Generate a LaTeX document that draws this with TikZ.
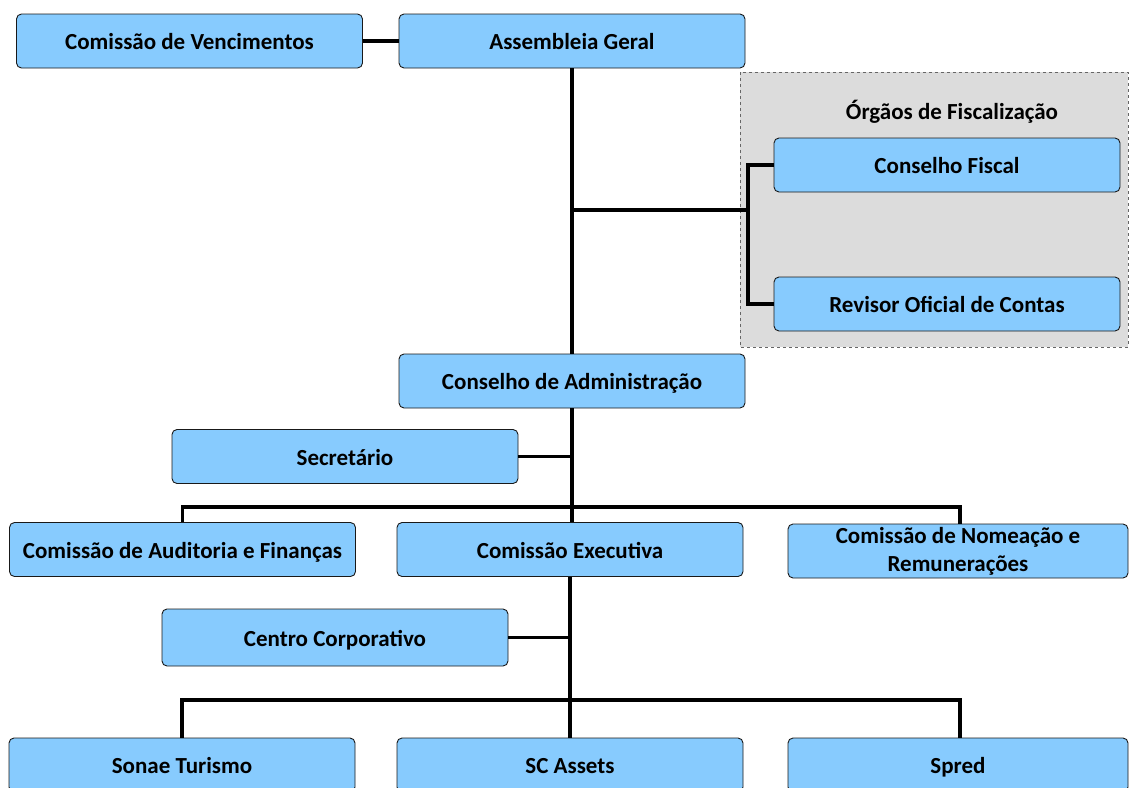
\documentclass[tikz,border=0pt]{standalone}
\usepackage{fontspec}
\setmainfont{Carlito}
\usetikzlibrary{positioning}
\definecolor{boxblue}{HTML}{87CBFE}
\definecolor{panelgray}{HTML}{DCDCDC}

\begin{document}
\begin{tikzpicture}
      [x=1pt, y=-1pt,
      unit/.style={draw=black!90, fill=boxblue, rounded corners=5pt, line width=0.9pt,
        minimum width=346pt, minimum height=54pt, align=center, inner sep=0pt,
        font=\bfseries\fontsize{23}{28}\selectfont},
      oneline/.style={unit, text height=19pt, text depth=2pt},
      link/.style={line width=3.2pt},
      panel/.style={fill=panelgray, draw=black!60, dashed, line width=0.8pt}]
      \useasboundingbox (0,0) rectangle (1129,787);
      % orgaos de fiscalizacao
      \draw[panel] (740,72) rectangle (1128,347);
      \node[font=\bfseries\fontsize{23}{28}\selectfont] (fisc) at (952,112) {Órgãos de Fiscalização};
      % top level
      \node[oneline] (venc) at (189.5,41) {Comissão de Vencimentos};
      \node[oneline] (ag) at (572,41) {Assembleia Geral};
      \node[oneline] (cf) at (947,165) {Conselho Fiscal};
      \node[oneline] (roc) at (947,304) {Revisor Oficial de Contas};
      \node[oneline] (ca) at (572,381) {Conselho de Administração};
      \node[oneline] (sec) at (345,456.5) {Secretário};
      % comissoes
      \node[oneline] (caf) at (182.5,549.5) {Comissão de Auditoria e Finanças};
      \node[oneline] (ce) at (570,549.5) {Comissão Executiva};
      \node[unit, minimum width=340pt] (cnr) at (958,551) {Comissão de Nomeação e\\Remunerações};
      \node[oneline, minimum height=57pt] (cc) at (335,637.5) {Centro Corporativo};
      % empresas
      \node[oneline] (st) at (182,765) {Sonae Turismo};
      \node[oneline] (sca) at (570,765) {SC Assets};
      \node[oneline, minimum width=340pt] (spred) at (958,765) {Spred};
      % ligacoes
      \coordinate (fj) at (572,210);
      \coordinate (fb) at (748,210);
      \coordinate (cbar) at (572,507);
      \coordinate (ebar) at (570,700);
      \draw[link] (venc) -- (ag);
      \draw[link] (ag) -- (ca);
      \draw[link] (fj) -- (fb);
      \draw[link] (cf.west) -| (fb) |- (roc.west);
      \draw[link] (sec.east) -- (sec.east -| ca.south);
      \draw[link] (ca.south) -- (ca.south |- ce.north);
      \draw[link] (caf.north) |- (cbar) -| ([xshift=2pt]cnr.north);
      \draw[link] (ce.south) -- (sca.north);
      \draw[link] (cc.east) -- (cc.east -| ce.south);
      \draw[link] (st.north) |- (ebar) -| ([xshift=2pt]spred.north);
\end{tikzpicture}
\end{document}
